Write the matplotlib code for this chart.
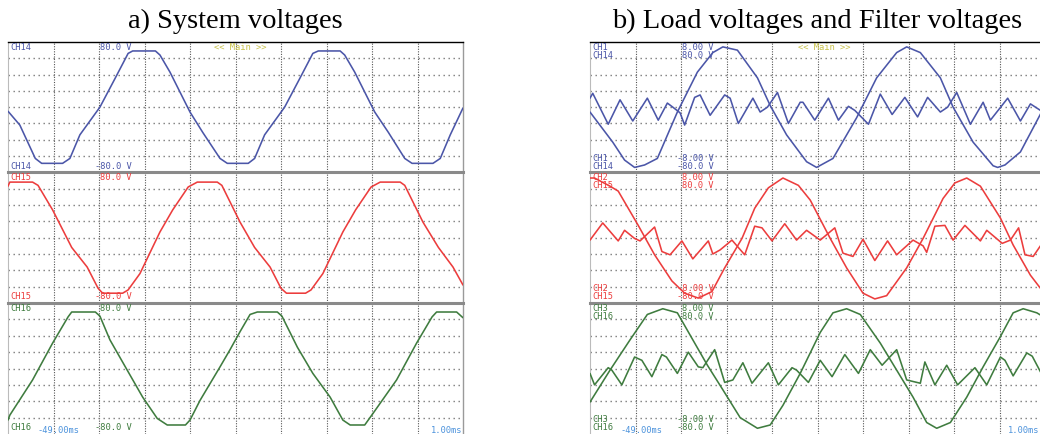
import matplotlib.pyplot as plt

# scope time base: -49 ms .. 1 ms, 5 ms/div, 10 div
t_start, t_end = -49.0, 1.0

# ---- a) system voltages (V), 20 V/div ----
ch14_a_t = [-49.0, -47.7, -46.0, -45.3, -43.0, -42.2, -41.1, -38.9, -37.2, -35.8, -35.3, -32.8, -32.3,
            -31.2, -29.0, -27.6, -25.7, -24.9, -22.6, -21.9, -20.8, -18.6, -16.9, -15.5, -14.9, -12.5,
            -12.0, -10.9, -8.7, -7.2, -5.4, -4.6, -2.3, -1.5, -0.4, 1.0]
ch14_a_v = [-5, -22, -63, -69, -69, -63, -34, 0, 36, 66, 69, 69, 64,
            43, -6, -31, -63, -69, -69, -63, -34, 0, 36, 66, 69, 69,
            64, 43, -6, -31, -63, -69, -69, -63, -34, -1]

ch15_a_t = [-49.0, -48.8, -46.3, -45.7, -44.1, -42.0, -40.3, -39.1, -38.6, -36.4, -35.8, -34.5, -32.3,
            -30.9, -29.2, -28.2, -26.0, -25.5, -23.5, -21.9, -20.2, -19.0, -18.4, -16.3, -15.7, -14.4,
            -12.2, -10.8, -9.1, -8.1, -5.9, -5.4, -3.4, -1.7, -0.1, 1.0]
ch15_a_v = [63, 68, 68, 64, 34, -12, -36, -62, -68, -68, -64, -44, 7,
            34, 62, 68, 68, 64, 19, -12, -36, -62, -68, -68, -64, -44,
            7, 34, 62, 68, 68, 64, 19, -12, -36, -58]

ch16_a_t = [-49.0, -48.8, -46.3, -44.1, -42.4, -42.0, -39.4, -38.9, -37.8, -35.9, -34.2, -32.6, -31.5,
            -29.5, -29.0, -27.9, -25.7, -24.6, -23.5, -22.4, -21.6, -19.4, -18.9, -17.2, -15.5, -13.6,
            -12.2, -11.4, -9.8, -8.9, -6.3, -4.1, -2.4, -1.9, 0.3, 1.0]
ch16_a_v = [-63, -57, -14, 31, 63, 69, 69, 64, 35, -2, -35, -61, -69,
            -69, -63, -39, 2, 23, 45, 66, 69, 69, 64, 26, -6, -35,
            -63, -69, -69, -55, -14, 31, 63, 69, 69, 62]

# ---- b) load voltages (V, 20 V/div) ----
ch14_b_t = [-49.0, -46.5, -45.2, -44.1, -43.0, -41.6, -39.4, -37.2, -35.5, -34.4, -32.8, -30.6, -29.2,
            -27.4, -25.2, -24.1, -22.3, -19.7, -17.5, -15.3, -14.2, -12.7, -10.5, -9.1, -6.9, -4.7,
            -4.2, -3.4, -1.7, 1.0]
ch14_b_v = [-6, -43, -65, -74, -71, -63, -6, 43, 67, 74, 70, 36, 2,
            -34, -67, -74, -63, -13, 36, 67, 74, 67, 36, 0, -43, -72,
            -74, -71, -55, 2]

ch15_b_t = [-49.0, -48.5, -46.8, -45.9, -43.7, -41.9, -40.0, -38.6, -37.1, -35.6, -34.2, -32.3, -30.9,
            -29.4, -27.8, -26.1, -24.8, -22.6, -20.8, -19.0, -17.7, -16.4, -14.2, -12.4, -10.2, -8.9,
            -7.6, -6.1, -3.9, -2.5, -0.6, 0.5, 1.0]
ch15_b_v = [73, 73, 63, 57, 15, -21, -53, -68, -74, -66, -37, -1, 36,
            61, 73, 64, 46, -1, -37, -68, -75, -71, -37, -1, 48, 67,
            73, 63, 24, -9, -46, -62, -67]

ch16_b_t = [-49.0, -46.8, -44.6, -42.7, -41.0, -39.4, -37.7, -36.1, -34.4, -32.5, -30.6, -29.2, -27.8,
            -25.9, -23.7, -22.3, -20.8, -19.3, -17.1, -15.3, -13.5, -12.0, -10.9, -9.4, -7.6, -5.8,
            -3.9, -2.5, -1.4, 0.1, 1.0]
ch16_b_v = [-41, -2, 35, 66, 73, 68, 35, 4, -26, -60, -73, -69, -45,
            -6, 44, 68, 73, 66, 31, -2, -35, -66, -73, -66, -35, 2,
            39, 68, 73, 68, 62]

# ---- b) filter voltages (V, 2 V/div) ----
ch1_t = [-49.0, -48.7, -47.0, -45.7, -44.3, -42.7, -41.5, -40.5, -39.9, -39.1, -38.6, -37.5, -36.9,
         -35.8, -34.2, -33.6, -32.7, -31.1, -30.3, -29.5, -28.4, -27.2, -25.9, -25.6, -24.3, -22.8,
         -21.7, -20.6, -19.9, -18.4, -17.1, -15.8, -14.4, -13.0, -11.9, -10.5, -9.7, -8.7, -7.2,
         -5.8, -5.0, -3.1, -1.7, -0.6, 0.5, 1.0]
ch1_v = [1.1, 1.7, -2.1, 0.9, -1.7, 1.1, -1.6, 0.5, 0.0, -0.7, -2.2, 1.2, 1.5,
         -1.0, 1.5, 1.1, -2.0, 1.1, -0.6, 0.0, 1.8, -2.0, 0.6, 0.6, -1.6, 1.1,
         -1.6, 0.1, -0.4, -2.1, 1.6, -0.9, 1.2, -1.2, 1.2, -0.6, 0.0, 1.8, -2.1,
         0.6, -1.6, 1.1, -1.7, 0.4, -0.4, -0.6]

ch2_t = [-49.0, -47.6, -45.9, -45.2, -44.1, -43.5, -41.9, -41.1, -40.2, -38.9, -37.7, -36.0, -35.5,
         -34.7, -33.4, -32.0, -30.9, -30.1, -29.0, -27.6, -26.3, -25.2, -23.7, -22.1, -21.2, -20.1,
         -19.0, -17.7, -16.3, -15.3, -13.5, -12.4, -12.0, -11.1, -10.0, -9.1, -7.8, -6.1, -5.4,
         -3.7, -2.8, -1.9, -1.2, -0.3, 0.5, 1.0]
ch2_v = [-0.3, 1.8, -0.4, 0.9, -0.1, -0.4, 1.3, -1.7, -2.1, -0.4, -2.6, -0.4, -2.0,
         -1.5, -0.3, -2.1, 1.4, 1.2, -0.4, 1.7, -0.3, 0.9, -0.3, 1.2, -1.9, -2.3,
         -0.2, -2.8, -0.4, -2.1, -0.3, -1.0, -1.8, 1.4, 1.5, -0.3, 1.5, -0.4, 0.9,
         -0.7, -0.3, 1.2, -2.1, -2.3, -1.0, -0.3]

ch3_t = [-49.0, -48.5, -47.0, -46.6, -45.5, -44.1, -43.3, -42.2, -41.1, -40.6, -39.4, -38.2, -37.1,
         -36.6, -35.3, -34.2, -33.3, -32.2, -31.2, -29.4, -28.3, -26.8, -26.3, -25.0, -23.7, -22.4,
         -21.0, -19.5, -18.2, -16.9, -15.3, -14.2, -12.7, -12.2, -11.1, -9.8, -8.6, -6.7, -5.4,
         -3.9, -3.4, -2.5, -1.0, -0.4, 0.5, 1.0]
ch3_v = [-0.6, -2.0, 0.1, -0.2, -2.0, 1.4, 1.0, -1.0, 1.7, 1.4, -0.6, 2.0, 0.2,
         0.1, 2.3, -1.7, -1.4, 0.7, -1.8, 0.7, -2.0, 0.1, -0.2, -1.7, 1.0, -1.0,
         1.7, -0.6, 2.3, 0.4, 2.3, -1.4, -1.8, 0.8, -2.0, 0.4, -2.0, 0.1, -2.0,
         1.4, 1.0, -0.9, 1.9, 1.5, -0.4, -1.2]

blue, red, green = '#4b56a8', '#ec3d3d', '#3f7c3f'
time_blue, main_yellow = '#4d93dc', '#c9c24a'

W, H = 1040, 434
fig = plt.figure(figsize=(W / 100, H / 100), dpi=100)
rows_px = [(42, 172.3), (172.3, 303), (303, 434)]
mono = 'DejaVu Sans Mono'


def add_ax(x0, row):
    y0, y1 = rows_px[row]
    return fig.add_axes([x0 / W, 1 - y1 / H, 455 / W, (y1 - y0) / H])


def style(ax, row):
    ax.set_xlim(t_start, t_end)
    ax.set_ylim(-80, 80)
    ax.set_xticks([])
    ax.set_yticks([])
    for k in range(1, 10):
        ax.axvline(t_start + 5 * k, color='#555555', lw=0.8, ls=(0, (1, 1.3)), zorder=0)
    for k in range(-3, 4):
        ax.axhline(20 * k, color='#7a7a7a', lw=1.0, ls=(0, (1, 2.6)), zorder=0)
    ax.spines['left'].set_color('#bbbbbb')
    ax.spines['left'].set_linewidth(0.8)
    ax.spines['right'].set_color('#9a9a9a')
    ax.spines['right'].set_linewidth(1.0)
    ax.spines['bottom'].set_visible(False)
    if row == 0:
        ax.spines['top'].set_color('black')
        ax.spines['top'].set_linewidth(1.0)
    else:
        ax.spines['top'].set_color('#8a8a8a')
        ax.spines['top'].set_linewidth(2.2)


def labels(ax, names, top_vals, bot_vals, color):
    kw = dict(transform=ax.transAxes, family=mono, fontsize=6.3, color=color,
              linespacing=0.85, zorder=5)
    ax.text(0.005, 0.995, names, va='top', ha='left', **kw)
    ax.text(0.202, 0.995, top_vals, va='top', ha='left', **kw)
    ax.text(0.005, 0.012, names, va='bottom', ha='left', **kw)
    ax.text(0.191, 0.012, bot_vals, va='bottom', ha='left', **kw)


def scope_text(ax, x, y, s, color, ha):
    ax.text(x, y, s, transform=ax.transAxes, va='top' if y > 0.5 else 'bottom', ha=ha,
            family=mono, fontsize=6.3, color=color)


line_kw = dict(lw=1.15, solid_joinstyle='round', solid_capstyle='round')

# ---- panel a ----
sys_data = [(ch14_a_t, ch14_a_v, blue, 'CH14'), (ch15_a_t, ch15_a_v, red, 'CH15'),
            (ch16_a_t, ch16_a_v, green, 'CH16')]
for row, (t, v, c, name) in enumerate(sys_data):
    ax = add_ax(8, row)
    style(ax, row)
    ax.plot(t, v, color=c, zorder=3, **line_kw)
    labels(ax, name, '80.0 V', '-80.0 V', c)
    if row == 0:
        scope_text(ax, 0.51, 0.995, '<< Main >>', main_yellow, 'center')
    if row == 2:
        scope_text(ax, 0.064, -0.005, '-49.00ms', time_blue, 'left')
        scope_text(ax, 0.998, -0.005, '1.00ms', time_blue, 'right')

# ---- panel b ----
load_data = [(ch14_b_t, ch14_b_v, ch1_t, ch1_v, blue, 'CH1\nCH14'),
             (ch15_b_t, ch15_b_v, ch2_t, ch2_v, red, 'CH2\nCH15'),
             (ch16_b_t, ch16_b_v, ch3_t, ch3_v, green, 'CH3\nCH16')]
for row, (t, v, tf, vf, c, name) in enumerate(load_data):
    ax = add_ax(590, row)
    style(ax, row)
    ax.plot(t, v, color=c, zorder=3, **line_kw)
    fax = ax.twinx()
    fax.set_ylim(-8, 8)
    fax.axis('off')
    fax.plot(tf, vf, color=c, **line_kw)
    labels(ax, name, '8.00 V\n80.0 V', '-8.00 V\n-80.0 V', c)
    if row == 0:
        scope_text(ax, 0.514, 0.995, '<< Main >>', main_yellow, 'center')
    if row == 2:
        scope_text(ax, 0.066, -0.005, '-49.00ms', time_blue, 'left')
        # the scope frame runs past the figure edge; keep the label inside
        scope_text(ax, 0.987, -0.005, '1.00ms', time_blue, 'right')

serif = ['Liberation Serif', 'DejaVu Serif']
fig.text(235.5 / W, 1 - 28 / H, 'a) System voltages', ha='center', va='baseline',
         family=serif, fontsize=20.5)
fig.text(817.5 / W, 1 - 28 / H, 'b) Load voltages and Filter voltages', ha='center', va='baseline',
         family=serif, fontsize=20.5)

fig.savefig('out.png', dpi=100)
